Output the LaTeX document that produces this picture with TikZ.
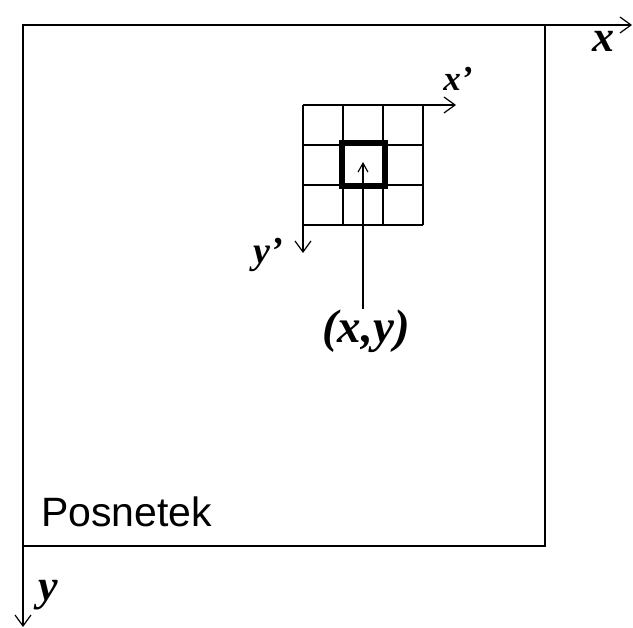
\documentclass[tikz,border=0pt]{standalone}
\usepackage{fontspec}
\setmainfont{Liberation Serif}
\setsansfont{Liberation Sans}
\usetikzlibrary{arrows.meta}
\begin{document}
\begin{tikzpicture}[x=1pt,y=-1pt,
  ax/.style={line width=1.3pt,-{Straight Barb[length=11pt,width=16pt,line width=1.2pt]}},
  thin/.style={line width=1.4pt},
  lbl/.style={font=\fontsize{#1}{#1}\selectfont\bfseries\itshape, inner sep=0pt}]
\useasboundingbox (0,0) rectangle (633,628);
% outer frame
\coordinate (o) at (23,25);
\coordinate (xe) at (632,25);
\coordinate (ye) at (23,627);
\draw[thin] (23,25) rectangle (545,546);
\draw[ax] (o) -- (xe);
\draw[ax] (o) -- (ye);
\node[lbl=44] (xl) at (603,41) {x};
\node[lbl=44] (yl) at (48,595) {y};
% grid
\foreach \i in {0,1,2,3}{
  \draw[thin] (303+40*\i,105) -- (303+40*\i,225);
  \draw[thin] (303,105+40*\i) -- (423,105+40*\i);
}
\coordinate (g) at (303,105);
\coordinate (gx) at (456,105);
\coordinate (gy) at (303,253);
\draw[ax] (g) -- (gx);
\draw[ax] (303,225) -- (gy);
\node[lbl=35] (xp) at (458,79) {x’};
\node[lbl=38] (yp) at (268,255) {y’};
\draw[line width=6pt] (341.5,143.5) rectangle (384.5,186.5);
% point label
\node[lbl=47] (pt) at (366,331) {(x,y)};
\coordinate (c) at (363,162);
\draw[line width=1.3pt,-{Straight Barb[length=9pt,width=10pt,line width=1.1pt]}] (363,309) -- (c);
\node[font=\sffamily\fontsize{41}{41}\selectfont, anchor=west, inner sep=0pt] (pos) at (41,512) {Posnetek};
\end{tikzpicture}
\end{document}
